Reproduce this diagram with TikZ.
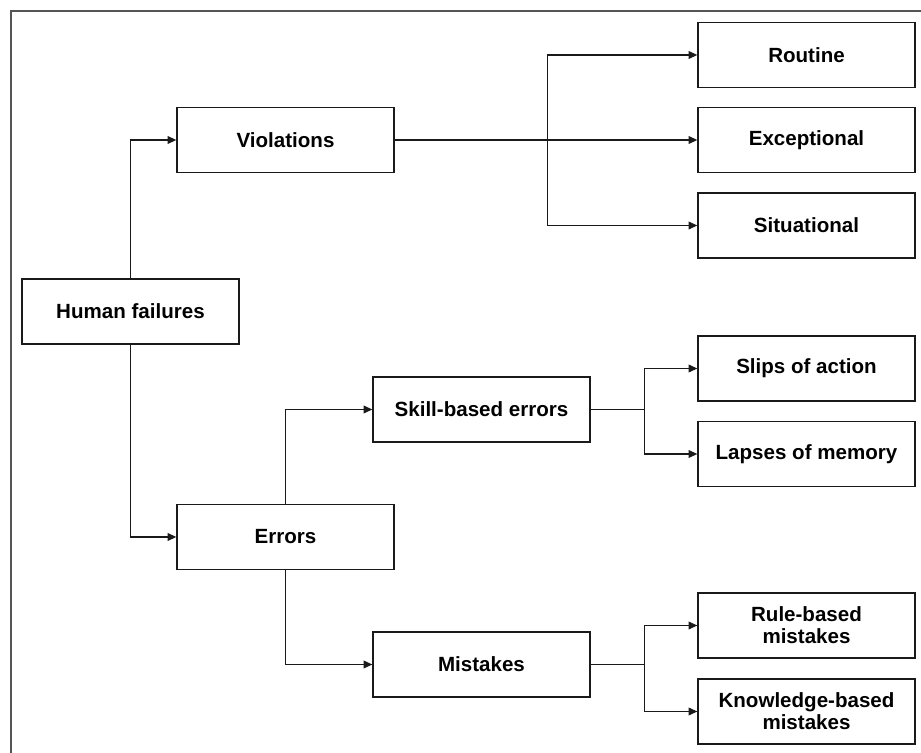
\documentclass[tikz,border=0pt]{standalone}
\usepackage{fontspec}
\setmainfont{Liberation Sans}
\usetikzlibrary{arrows.meta,calc}
\definecolor{linec}{HTML}{1A1A1A}
\definecolor{framec}{HTML}{555555}

\begin{document}
\begin{tikzpicture}[x=0.02cm,y=-0.02cm,
      box/.style={draw=linec,line width=0.75pt,minimum width=4.34cm,minimum height=1.3cm,inner sep=2pt,align=center,font=\fontsize{11.7}{12.5}\selectfont\bfseries},
      conn/.style={draw=linec,line width=0.75pt,-{Triangle[length=5pt,width=4.4pt]}},
      link/.style={draw=linec,line width=0.75pt},
    ]
    \useasboundingbox (0,0) rectangle (921,753);
    \draw[framec,line width=0.8pt] (921,11) -- (11,11) -- (11,753);
    % left part
    \node[box] (hf) at (130.5,311.5) {Human failures};
    \node[box] (viol) at (285.5,140) {Violations};
    \node[box] (err) at (285.5,537) {Errors};
    \node[box] (skill) at (481.5,409.5) {Skill-based errors};
    \node[box] (mist) at (481.5,664.5) {Mistakes};
    % right column
    \node[box] (rout) at (806.5,55) {Routine};
    \node[box] (exc) at (806.5,140) {Exceptional};
    \node[box] (sit) at (806.5,225.5) {Situational};
    \node[box] (slip) at (806.5,368.5) {Slips of action};
    \node[box] (lapse) at (806.5,454) {Lapses of memory};
    \node[box] (rule) at (806.5,625.5) {Rule-based\\mistakes};
    \node[box] (know) at (806.5,711.5) {Knowledge-based\\mistakes};
    \draw[conn] (hf.north) |- (viol.west);
    \draw[conn] (hf.south) |- (err.west);
    \draw[conn] (err.north) |- (skill.west);
    \draw[conn] (err.south) |- (mist.west);
    \coordinate (jv) at ($(viol.east)+(153,0)$);
    \coordinate (js) at ($(skill.east)+(54,0)$);
    \coordinate (jm) at ($(mist.east)+(54,0)$);
    \draw[link] (viol.east) -- (jv);
    \draw[link] (skill.east) -- (js);
    \draw[link] (mist.east) -- (jm);
    \foreach \t in {rout,exc,sit} {
      \draw[conn] (jv) |- (\t.west);
    }
    \foreach \t in {slip,lapse} {
      \draw[conn] (js) |- (\t.west);
    }
    \foreach \t in {rule,know} {
      \draw[conn] (jm) |- (\t.west);
    }
  \end{tikzpicture}
\end{document}
